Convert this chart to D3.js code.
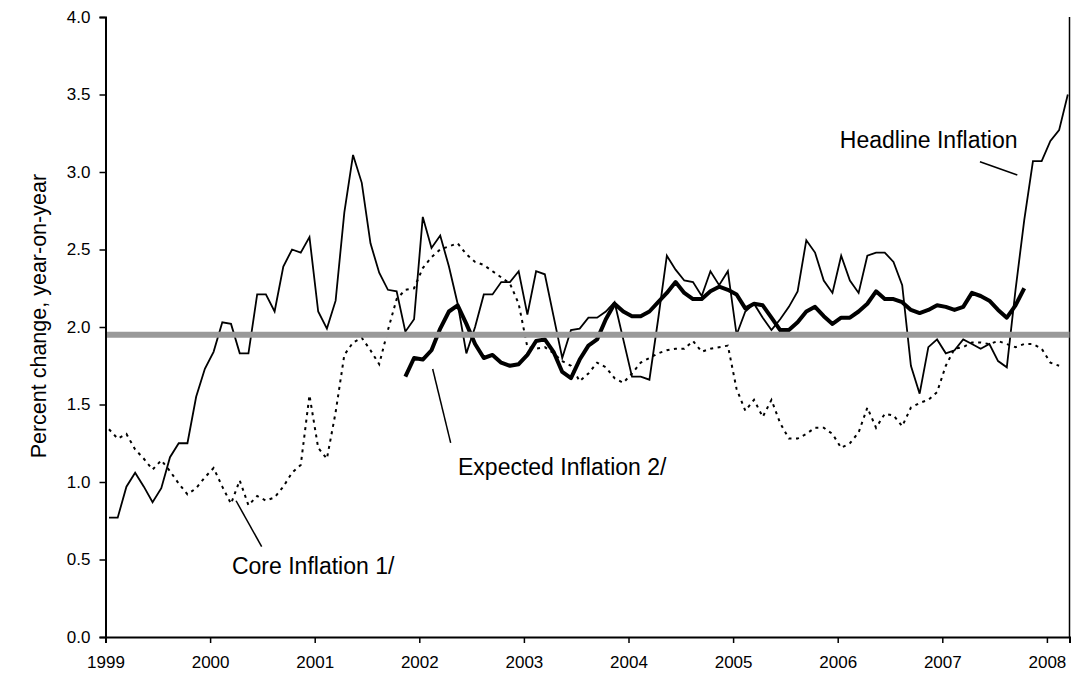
<!DOCTYPE html>
<html>
<head>
<meta charset="utf-8">
<script src="https://cdn.jsdelivr.net/npm/d3@7"></script>
<style>
  body { margin: 0; background: #fff; }
  text { font-family: "Liberation Sans", Arial, sans-serif; fill: #000; }
</style>
</head>
<body>
<div class="chart"></div>
<script>
// Monthly series, Jan 1999 onwards (percent change, year-on-year)
const HEADLINE = [
  0.77, 0.77, 0.97, 1.06, 0.97, 0.87, 0.96, 1.16, 1.25, 1.25, 1.55, 1.73,
  1.84, 2.03, 2.02, 1.83, 1.83, 2.21, 2.21, 2.10, 2.39, 2.50, 2.48, 2.58,
  2.10, 1.99, 2.17, 2.74, 3.11, 2.93, 2.54, 2.35, 2.24, 2.23, 1.97, 2.05,
  2.71, 2.51, 2.59, 2.39, 2.15, 1.83, 2.00, 2.21, 2.21, 2.29, 2.29, 2.36,
  2.08, 2.36, 2.34, 2.07, 1.80, 1.98, 1.99, 2.06, 2.06, 2.10, 2.16, 1.92,
  1.68, 1.68, 1.66, 2.05, 2.46, 2.37, 2.30, 2.29, 2.20, 2.36, 2.27, 2.36,
  1.95, 2.10, 2.15, 2.06, 1.98, 2.05, 2.13, 2.23, 2.56, 2.48, 2.30, 2.22,
  2.46, 2.30, 2.22, 2.46, 2.48, 2.48, 2.42, 2.27, 1.75, 1.57, 1.87, 1.92,
  1.83, 1.85, 1.92, 1.89, 1.86, 1.89, 1.78, 1.74, 2.24, 2.69, 3.07, 3.07,
  3.20, 3.27, 3.50
]

const CORE = [
  1.34, 1.28, 1.31, 1.21, 1.15, 1.08, 1.14, 1.07, 0.99, 0.92, 0.96, 1.03,
  1.09, 0.97, 0.86, 1.01, 0.85, 0.91, 0.88, 0.90, 0.97, 1.06, 1.11, 1.56,
  1.22, 1.15, 1.45, 1.82, 1.90, 1.93, 1.85, 1.76, 1.98, 2.18, 2.24, 2.25,
  2.38, 2.45, 2.50, 2.52, 2.54, 2.47, 2.42, 2.40, 2.36, 2.32, 2.28, 2.15,
  1.87, 1.86, 1.87, 1.83, 1.78, 1.75, 1.65, 1.70, 1.77, 1.74, 1.67, 1.64,
  1.70, 1.77, 1.80, 1.83, 1.85, 1.86, 1.86, 1.91, 1.84, 1.86, 1.87, 1.88,
  1.60, 1.46, 1.53, 1.42, 1.53, 1.38, 1.28, 1.28, 1.31, 1.35, 1.35, 1.31,
  1.22, 1.25, 1.32, 1.48, 1.35, 1.44, 1.43, 1.36, 1.48, 1.51, 1.53, 1.58,
  1.75, 1.86, 1.87, 1.90, 1.90, 1.89, 1.91, 1.89, 1.87, 1.89, 1.89, 1.86,
  1.77, 1.75
]

// Expected inflation starts Nov 2001 (month index 34)
const EXPECTED_START = 34
const EXPECTED = [
  1.68, 1.80, 1.79, 1.85, 1.99, 2.10, 2.14, 2.02, 1.89, 1.80, 1.82, 1.77,
  1.75, 1.76, 1.82, 1.91, 1.92, 1.84, 1.71, 1.67, 1.79, 1.88, 1.92, 2.05,
  2.15, 2.10, 2.07, 2.07, 2.10, 2.16, 2.22, 2.29, 2.22, 2.18, 2.18, 2.23,
  2.26, 2.24, 2.21, 2.12, 2.15, 2.14, 2.06, 1.98, 1.98, 2.03, 2.10, 2.13,
  2.07, 2.02, 2.06, 2.06, 2.10, 2.15, 2.23, 2.18, 2.18, 2.16, 2.11, 2.09,
  2.11, 2.14, 2.13, 2.11, 2.13, 2.22, 2.20, 2.17, 2.11, 2.06, 2.14, 2.25
]

const TARGET = 1.95
const YEARS = [1999, 2000, 2001, 2002, 2003, 2004, 2005, 2006, 2007, 2008]
const Y_TICKS = [0, 0.5, 1, 1.5, 2, 2.5, 3, 3.5, 4]

const ANNOTATIONS = [
  { text: 'Headline Inflation', at: [2006.02, 3.155], from: [2007.36, 3.066], to: [2007.717, 2.981] },
  { text: 'Expected Inflation 2/', at: [2002.37, 1.045], from: [2002.128, 1.729], to: [2002.30, 1.252] },
  { text: 'Core Inflation 1/', at: [2000.209, 0.406], from: [2000.248, 0.879], to: [2000.493, 0.583] },
]

const svgWidth = 1073
const svgHeight = 680
const margin = { top: 17, right: 3.5, bottom: 43, left: 105.5 }
const width = svgWidth - margin.left - margin.right
const height = svgHeight - margin.top - margin.bottom

const svg = d3.select('.chart').append('svg')
  .attr('width', svgWidth)
  .attr('height', svgHeight)

const chartGroup = svg.append('g')
  .attr('transform', `translate(${margin.left}, ${margin.top})`)

const xScale = d3.scaleLinear()
  .domain([1999, 1999 + width / 104.6])
  .range([0, width])

const yScale = d3.scaleLinear()
  .domain([0, 4])
  .range([height, 0])

const monthToYear = i => 1999 + (i + 0.4) / 12

const line = d3.line()
  .x(d => xScale(d[0]))
  .y(d => yScale(d[1]))

const headlinePts = HEADLINE.map((v, i) => [monthToYear(i), v])
const corePts = CORE.map((v, i) => [monthToYear(i), v])
const expectedPts = EXPECTED.map((v, i) => [monthToYear(i + EXPECTED_START), v])

// Right edge of plot area
chartGroup.append('line')
  .attr('x1', width).attr('x2', width).attr('y1', 0).attr('y2', height)
  .attr('stroke', '#000').attr('stroke-width', 1.5)

// Series
chartGroup.append('path')
  .datum(corePts)
  .attr('d', line)
  .attr('fill', 'none')
  .attr('stroke', '#000')
  .attr('stroke-width', 2)
  .attr('stroke-dasharray', '3,4.5')

chartGroup.append('path')
  .datum(headlinePts)
  .attr('d', line)
  .attr('fill', 'none')
  .attr('stroke', '#000')
  .attr('stroke-width', 1.8)

chartGroup.append('path')
  .datum(expectedPts)
  .attr('d', line)
  .attr('fill', 'none')
  .attr('stroke', '#000')
  .attr('stroke-width', 4)
  .attr('stroke-linejoin', 'round')

// Target band
chartGroup.append('line')
  .attr('x1', xScale(1999) + 1.5)
  .attr('x2', width)
  .attr('y1', yScale(TARGET))
  .attr('y2', yScale(TARGET))
  .attr('stroke', '#999999')
  .attr('stroke-width', 6)

// Axes
const xAxis = chartGroup.append('g')
  .attr('transform', `translate(0, ${height})`)
  .call(d3.axisBottom(xScale).tickValues(YEARS).tickFormat(d3.format('d')).tickSizeOuter(0).tickSize(6).tickPadding(13))
const yAxis = chartGroup.append('g')
  .call(d3.axisLeft(yScale).tickValues(Y_TICKS).tickFormat(d3.format('.1f')).tickSizeOuter(0).tickSize(6).tickPadding(9))

xAxis.select('.domain').attr('stroke-width', 2)
yAxis.select('.domain').attr('stroke-width', 2)
xAxis.selectAll('.tick line').attr('stroke-width', 1.5)
yAxis.selectAll('.tick line').attr('stroke-width', 1.5)
xAxis.selectAll('text').attr('font-size', '17px').attr('font-family', '"Liberation Sans Narrow", "Liberation Sans", Arial, sans-serif')
yAxis.selectAll('text').attr('font-size', '17px').attr('font-family', 'Liberation Sans, Arial, sans-serif')

// Y label
svg.append('text')
  .attr('transform', `translate(46, ${margin.top + yScale(2.07)}) rotate(-90)`)
  .attr('text-anchor', 'middle')
  .attr('font-size', '21.5px')
  .text('Percent change, year-on-year')

// Annotations with leader lines
ANNOTATIONS.forEach(a => {
  chartGroup.append('line')
    .attr('x1', xScale(a.from[0])).attr('y1', yScale(a.from[1]))
    .attr('x2', xScale(a.to[0])).attr('y2', yScale(a.to[1]))
    .attr('stroke', '#000').attr('stroke-width', 1.5)
  chartGroup.append('text')
    .attr('x', xScale(a.at[0]))
    .attr('y', yScale(a.at[1]))
    .attr('font-size', '23px')
    .text(a.text)
})
</script>
</body>
</html>
